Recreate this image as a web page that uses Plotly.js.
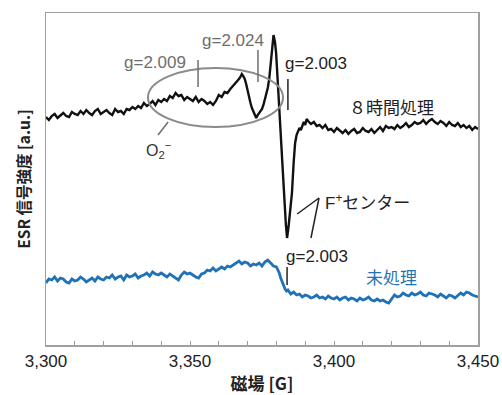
<!DOCTYPE html>
<html>
<head>
<meta charset="utf-8">
<script src="https://cdn.plot.ly/plotly-3.0.1.min.js"></script>
<style>html,body{margin:0;padding:0;background:#fff;}#chart{width:502px;height:395px;}</style>
</head>
<body>
<div id="chart"></div>
<script>
// Magnetic field [G] and ESR intensity [a.u.]
const fieldTreated = [3300,3301,3302,3303,3304,3305,3306,3307,3308,3309,3310,3311,3312,3313,3314,3315,3316,3317,3318,3319,3320,3321,3322,3323,3324,3325,3326,3327,3328,3329,3330,3331,3332,3333,3334,3335,3336,3337,3338,3339,3340,3341,3342,3343,3344,3345,3346,3347,3348,3349,3350,3351,3352,3353,3354,3355,3356,3357,3358,3359,3360,3361,3362,3363,3364,3365,3366,3367,3367.5,3368,3368.5,3369,3369.5,3370,3370.5,3371,3371.5,3372,3372.5,3373,3373.5,3374,3374.5,3375,3375.5,3376,3376.5,3377,3377.5,3378,3378.5,3379,3379.5,3379.9,3380.3,3380.6,3381,3381.3,3381.9,3382.6,3383.3,3383.7,3384.2,3384.7,3385.4,3386,3386.5,3387,3387.5,3388,3388.5,3389,3389.5,3390,3390.5,3391,3392,3393,3394,3395,3396,3397,3398,3399,3400,3401,3402,3403,3404,3405,3406,3407,3408,3409,3410,3411,3412,3413,3414,3415,3416,3417,3418,3419,3420,3421,3422,3423,3424,3425,3426,3427,3428,3429,3430,3431,3432,3433,3434,3435,3436,3437,3438,3439,3440,3441,3442,3443,3444,3445,3446,3447,3448,3449,3450];
const intensityTreated = [228,225,229,231,227,230,232,229,228,233,231,230,234,231,235,232,230,234,236,231,233,235,232,230,236,233,234,231,236,235,238,236,239,237,242,239,241,244,240,245,243,246,244,249,247,252,249,250,245,248,246,244,248,243,246,244,241,243,240,244,250,248,253,252,256,259,262,266,268,271,269,266,261,254,247,242,237,233,229,227,230,232,234,236,240,245,251,257,266,280,295,310,303,292,272,258,238,222,190,155,120,107,118,135,152,183,202,210,214,217,215,220,223,220,226,224,221,223,219,220,217,220,215,216,213,217,214,212,215,211,214,216,212,213,217,214,213,216,212,215,218,214,219,217,218,216,220,217,219,222,218,220,223,221,222,225,221,224,226,223,221,224,222,219,223,220,219,222,218,220,217,219,215,218,216];

const fieldUntreated = [3300,3301,3302,3303,3304,3305,3306,3307,3308,3309,3310,3311,3312,3313,3314,3315,3316,3317,3318,3319,3320,3321,3322,3323,3324,3325,3326,3327,3328,3329,3330,3331,3332,3333,3334,3335,3336,3337,3338,3339,3340,3341,3342,3343,3344,3345,3346,3347,3348,3349,3350,3351,3352,3353,3354,3355,3356,3357,3358,3359,3360,3361,3362,3363,3364,3365,3366,3367,3368,3369,3370,3371,3372,3373,3374,3375,3376,3377,3378,3379,3380,3380.5,3381,3381.5,3382,3382.5,3383,3383.5,3384,3385,3386,3387,3388,3389,3390,3391,3392,3393,3394,3395,3396,3397,3398,3399,3400,3401,3402,3403,3404,3405,3406,3407,3408,3409,3410,3411,3412,3413,3414,3415,3416,3417,3418,3419,3420,3421,3422,3423,3424,3425,3426,3427,3428,3429,3430,3431,3432,3433,3434,3435,3436,3437,3438,3439,3440,3441,3442,3443,3444,3445,3446,3447,3448,3449,3450];
const intensityUntreated = [62,66,65,68,64,67,66,63,62,66,64,65,68,66,63,65,67,64,68,66,65,68,67,70,66,68,69,65,70,68,69,71,67,69,70,72,69,73,71,70,72,70,68,71,69,67,65,70,73,71,72,70,68,67,71,72,75,74,77,74,76,78,76,79,78,80,82,84,81,83,82,79,81,80,82,79,83,85,82,79,78,75,72,67,63,59,56,54,55,51,53,50,51,48,50,49,47,48,50,47,48,46,49,47,46,48,45,47,48,45,47,46,44,47,45,46,48,45,44,46,44,45,43,42,46,50,48,49,52,50,49,52,50,51,53,50,49,52,51,50,48,51,49,47,50,49,47,50,52,50,53,52,50,49,48];

const xTickVals = [3300,3350,3400,3450];
const xTickText = ['3,300','3,350','3,400','3,450'];

const FONT = 'Liberation Sans, Arial, Noto Sans CJK JP, sans-serif';
const GREY = '#6e6e6e';
const BLUE = '#1f72b8';

const traces = [
  {x: fieldTreated, y: intensityTreated, type: 'scatter', mode: 'lines',
   line: {color: '#111111', width: 2.4}, hoverinfo: 'skip', showlegend: false},
  {x: fieldUntreated, y: intensityUntreated, type: 'scatter', mode: 'lines',
   line: {color: BLUE, width: 2.8}, hoverinfo: 'skip', showlegend: false}
];

function txt(x, y, text, color, size, xanchor) {
  return {x: x, y: y, xref: 'x', yref: 'y', text: text, showarrow: false,
          xanchor: xanchor || 'center', yanchor: 'middle',
          font: {family: FONT, size: size || 17, color: color}};
}
function seg(x0, y0, x1, y1, color, w) {
  return {type: 'line', xref: 'x', yref: 'y', x0: x0, y0: y0, x1: x1, y1: y1,
          line: {color: color, width: w || 1.5}};
}

const layout = {
  width: 502, height: 395,
  margin: {l: 46, r: 24, t: 13, b: 50},
  paper_bgcolor: '#ffffff', plot_bgcolor: '#ffffff',
  font: {family: FONT, color: '#222'},
  xaxis: {
    range: [3300, 3450], tickmode: 'array', tickvals: xTickVals, ticktext: xTickText,
    ticks: 'inside', ticklen: 4, tickcolor: '#999', tickwidth: 1,
    minor: {dtick: 10, ticks: 'inside', ticklen: 4, tickcolor: '#999', tickwidth: 1},
    showline: true, linecolor: '#a0a0a0', linewidth: 1.5, mirror: true,
    showgrid: false, zeroline: false,
    tickfont: {family: FONT, size: 17, color: '#222'},
    title: {text: '<b>磁場 [G]</b>', font: {family: 'Noto Sans CJK JP, sans-serif', size: 17, color: '#222'}, standoff: 8}
  },
  yaxis: {
    range: [0, 332], showticklabels: false, ticks: '',
    showline: true, linecolor: '#a0a0a0', linewidth: 1.5, mirror: true,
    showgrid: false, zeroline: false,
    title: {text: '<b>ESR 信号強度 [a.u.]</b>', font: {family: 'Noto Sans CJK JP, sans-serif', size: 15.5, color: '#222'}, standoff: 10}
  },
  shapes: [
    {type: 'circle', xref: 'x', yref: 'y', x0: 3335.4, x1: 3382.3, y0: 218, y1: 277,
     line: {color: '#8a8a8a', width: 2}},
    seg(3352.8, 285, 3352.8, 258, GREY),
    seg(3373.6, 295, 3373.6, 263, GREY),
    seg(3384.0, 266, 3384.0, 235, '#222'),
    seg(3342.4, 223, 3338.9, 210, GREY),
    seg(3394.8, 147, 3387.2, 131, '#222'),
    seg(3394.8, 147, 3392.0, 107, '#222'),
    seg(3383.7, 78, 3383.7, 60, '#222')
  ],
  annotations: [
    txt(3337.8, 283, 'g=2.009', GREY, 17),
    txt(3365.1, 305, 'g=2.024', GREY, 17),
    txt(3393.9, 282, 'g=2.003', '#222', 17),
    txt(3420.1, 237, '８時間処理', '#222', 17),
    txt(3338.9, 195, 'O<sub>2</sub><sup>−</sup>', '#333', 16),
    txt(3396.2, 143, 'F<sup>+</sup>センター', '#222', 17, 'left'),
    txt(3394.1, 89, 'g=2.003', '#222', 17),
    txt(3420.1, 67, '未処理', BLUE, 17)
  ]
};

Plotly.newPlot('chart', traces, layout, {staticPlot: true, displayModeBar: false});
</script>
</body>
</html>
